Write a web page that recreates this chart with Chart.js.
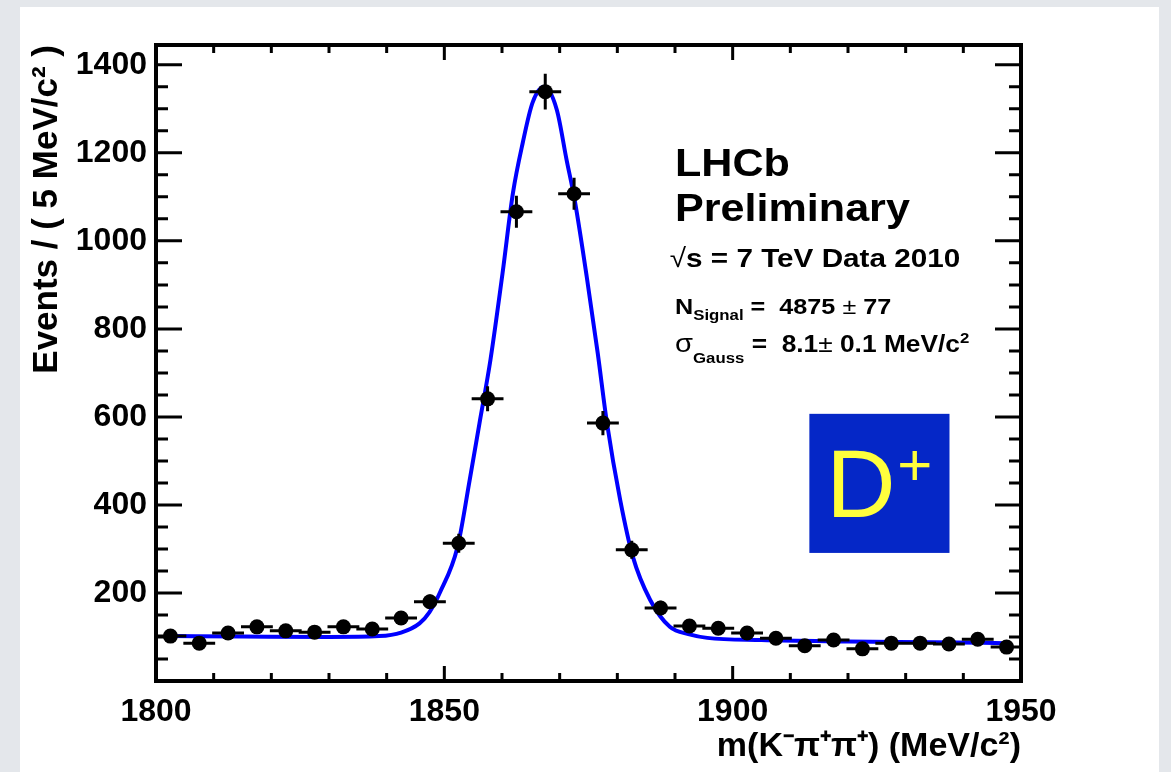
<!DOCTYPE html>
<html>
<head>
<meta charset="utf-8">
<script src="https://cdn.jsdelivr.net/npm/chart.js@4.4.1/dist/chart.umd.min.js"></script>
<style>
  html, body { margin: 0; padding: 0; }
  body { background: #e4e7eb; width: 1171px; height: 772px; overflow: hidden; position: relative; }
  #card { position: absolute; left: 20px; top: 7px; width: 1139px; height: 780px; background: #fff; }
  #chart { position: absolute; left: 0; top: 0; }
</style>
</head>
<body>
<div id="card"></div>
<canvas id="chart" width="1171" height="772"></canvas>
<script>
const binCenters = [1802.5, 1807.5, 1812.5, 1817.5, 1822.5, 1827.5, 1832.5, 1837.5, 1842.5, 1847.5,
                    1852.5, 1857.5, 1862.5, 1867.5, 1872.5, 1877.5, 1882.5, 1887.5, 1892.5, 1897.5,
                    1902.5, 1907.5, 1912.5, 1917.5, 1922.5, 1927.5, 1932.5, 1937.5, 1942.5, 1947.5];
const events = [102, 86, 109, 123, 114, 111, 123, 118, 143, 180,
                313, 641, 1066, 1339, 1107, 586, 298, 166, 125, 120,
                109, 97, 80, 93, 73, 86, 86, 84, 95, 77];
const eventErrors = [10, 9, 10, 11, 11, 11, 11, 11, 12, 13,
                     18, 25, 33, 37, 33, 24, 17, 13, 11, 11,
                     10, 10, 9, 10, 9, 9, 9, 9, 10, 9];

// fit curve
const fitMass = [1802.5, 1815, 1830, 1838.7, 1842.5, 1845.7, 1847.4, 1849.2, 1852.3, 1854.4,
                 1856.1, 1858.0, 1860.1, 1861.9, 1863.6, 1865.3, 1867.3, 1869.5, 1871.2, 1872.6,
                 1874.7, 1876.6, 1878.2, 1880.5, 1882.7, 1885.7, 1889.1, 1892.5, 1895.6, 1905,
                 1920, 1935, 1947.5];
const fitEvents = [102, 101, 100, 102, 110, 131, 156, 200, 305, 457,
                   586, 730, 927, 1109, 1223, 1314, 1350, 1298, 1184, 1093,
                   918, 745, 586, 411, 282, 184, 123, 106, 98, 93,
                   90, 88, 86];

const xTickLabels = [1800, 1850, 1900, 1950];
const yTickLabels = [200, 400, 600, 800, 1000, 1200, 1400];

const FONT = "'Liberation Sans', Arial, Helvetica, sans-serif";

const points = binCenters.map((m, i) => ({ x: m, y: events[i] }));
const curve = fitMass.map((m, i) => ({ x: m, y: fitEvents[i] }));

// error bars: drawn right after the curve, before the dots
const errorBars = {
    id: 'errorBars',
    afterDatasetDraw(chart, args) {
        if (args.index !== 1) return;
        const { ctx, scales: { x, y } } = chart;
        ctx.save();
        ctx.strokeStyle = '#000';
        ctx.lineWidth = 3;
        ctx.lineCap = 'square';
        ctx.beginPath();
        binCenters.forEach((m, i) => {
            const px = x.getPixelForValue(m);
            const py = y.getPixelForValue(events[i]);
            ctx.moveTo(x.getPixelForValue(m - 2.5), py);
            ctx.lineTo(x.getPixelForValue(m + 2.5), py);
            ctx.moveTo(px, y.getPixelForValue(events[i] - eventErrors[i]));
            ctx.lineTo(px, y.getPixelForValue(events[i] + eventErrors[i]));
        });
        ctx.stroke();
        ctx.restore();
    }
};

// ROOT style frame with inward ticks on all four sides
const frameAndTicks = {
    id: 'frameAndTicks',
    afterDraw(chart) {
        const { ctx, chartArea: a, scales: { x, y } } = chart;
        ctx.save();
        ctx.strokeStyle = '#000';
        ctx.lineWidth = 3;
        ctx.beginPath();
        for (let m = 1800; m <= 1950; m += 10) {
            const px = x.getPixelForValue(m);
            const len = m % 50 === 0 ? 15 : 8;
            ctx.moveTo(px, a.bottom); ctx.lineTo(px, a.bottom - len);
            ctx.moveTo(px, a.top); ctx.lineTo(px, a.top + len);
        }
        for (let v = 50; v < y.max; v += 50) {
            const py = y.getPixelForValue(v);
            const len = v % 200 === 0 ? 26 : 12;
            ctx.moveTo(a.left, py); ctx.lineTo(a.left + len, py);
            ctx.moveTo(a.right, py); ctx.lineTo(a.right - len, py);
        }
        ctx.stroke();
        ctx.lineWidth = 4;
        ctx.strokeRect(a.left, a.top, a.right - a.left, a.bottom - a.top);
        ctx.restore();
    }
};

// text in the reference is a bit stretched sideways, so draw with sx > 1
function drawRich(ctx, x, y, parts, sx) {
    ctx.save();
    ctx.translate(x, y);
    ctx.scale(sx || 1, 1);
    let cx = 0;
    for (const p of parts) {
        ctx.font = p.font;
        ctx.fillText(p.text, cx, p.dy || 0);
        cx += ctx.measureText(p.text).width;
    }
    ctx.restore();
}

const annotations = {
    id: 'annotations',
    afterDraw(chart) {
        const { ctx, scales: { x, y } } = chart;
        ctx.save();
        ctx.fillStyle = '#000';
        ctx.textAlign = 'left';
        ctx.textBaseline = 'alphabetic';

        const bold = s => `bold ${s}px ${FONT}`;
        const norm = s => `${s}px ${FONT}`;
        const SX = 1.12;

        drawRich(ctx, x.getPixelForValue(1890), y.getPixelForValue(1148), [{ text: 'LHCb', font: bold(38.5) }], SX);
        drawRich(ctx, x.getPixelForValue(1890), y.getPixelForValue(1046), [{ text: 'Preliminary', font: bold(38.5) }], SX);
        drawRich(ctx, x.getPixelForValue(1889.1), y.getPixelForValue(941), [
            { text: '\u221A', font: norm(26.5) },
            { text: 's = 7 TeV Data 2010', font: bold(26.5) }
        ], SX);
        drawRich(ctx, x.getPixelForValue(1890), y.getPixelForValue(834), [
            { text: 'N', font: bold(22.5) },
            { text: 'Signal', font: bold(15), dy: 6 },
            { text: ' =  4875 ', font: bold(22.5) },
            { text: '\u00B1', font: norm(22.5) },
            { text: ' 77', font: bold(22.5) }
        ], SX);
        drawRich(ctx, x.getPixelForValue(1890), y.getPixelForValue(748), [
            { text: '\u03C3', font: norm(26) },
            { text: 'Gauss', font: bold(15), dy: 11 },
            { text: ' =  8.1', font: bold(23.5) },
            { text: '\u00B1', font: norm(23.5) },
            { text: ' 0.1 MeV/c', font: bold(23.5) },
            { text: '2', font: bold(15), dy: -9 }
        ], SX);

        // D+ label box
        const bx0 = x.getPixelForValue(1913.3), bx1 = x.getPixelForValue(1937.6);
        const by0 = y.getPixelForValue(607), by1 = y.getPixelForValue(291);
        ctx.fillStyle = '#0527c7';
        ctx.fillRect(bx0, by0, bx1 - bx0, by1 - by0);
        ctx.fillStyle = '#ffff3c';
        drawRich(ctx, bx0 + 17, by0 + 103, [{ text: 'D', font: norm(96) }]);
        drawRich(ctx, bx0 + 88, by0 + 71, [{ text: '+', font: norm(60) }]);
        ctx.restore();
    }
};

new Chart(document.getElementById('chart'), {
    type: 'scatter',
    data: {
        datasets: [
            {
                label: 'Data',
                data: points,
                pointRadius: 7.5,
                pointBackgroundColor: '#000',
                pointBorderWidth: 0
            },
            {
                label: 'Fit',
                data: curve,
                showLine: true,
                pointRadius: 0,
                borderColor: '#0000ff',
                borderWidth: 4,
                cubicInterpolationMode: 'monotone'
            }
        ]
    },
    options: {
        responsive: false,
        animation: false,
        layout: { padding: { left: 0, top: 45, right: 150, bottom: 0 } },
        plugins: { legend: { display: false }, tooltip: { enabled: false } },
        scales: {
            x: {
                type: 'linear',
                min: 1800,
                max: 1950,
                afterFit: s => { s.height = 91; },
                afterBuildTicks: s => { s.ticks = xTickLabels.map(v => ({ value: v })); },
                grid: { display: false, drawTicks: false },
                border: { display: false },
                ticks: {
                    color: '#000', padding: 12,
                    callback: v => String(v),
                    font: { family: FONT, size: 32, weight: 'bold' }
                },
                title: {
                    display: true,
                    text: 'm(K\u207B\u03C0\u207A\u03C0\u207A) (MeV/c\u00B2)',
                    align: 'end',
                    color: '#000',
                    padding: { top: 0, bottom: 5 },
                    font: { family: FONT, size: 34, weight: 'bold' }
                }
            },
            y: {
                type: 'linear',
                min: 0,
                max: 1445,
                afterFit: s => { s.width = 156; },
                afterBuildTicks: s => { s.ticks = yTickLabels.map(v => ({ value: v })); },
                grid: { display: false, drawTicks: false },
                border: { display: false },
                ticks: {
                    color: '#000', padding: 9,
                    callback: v => String(v),
                    font: { family: FONT, size: 32, weight: 'bold' }
                },
                title: {
                    display: true,
                    text: 'Events / ( 5 MeV/c\u00B2 )',
                    align: 'end',
                    color: '#000',
                    padding: { top: 26, bottom: 0 },
                    font: { family: FONT, size: 35, weight: 'bold' }
                }
            }
        }
    },
    plugins: [errorBars, frameAndTicks, annotations]
});
</script>
</body>
</html>
